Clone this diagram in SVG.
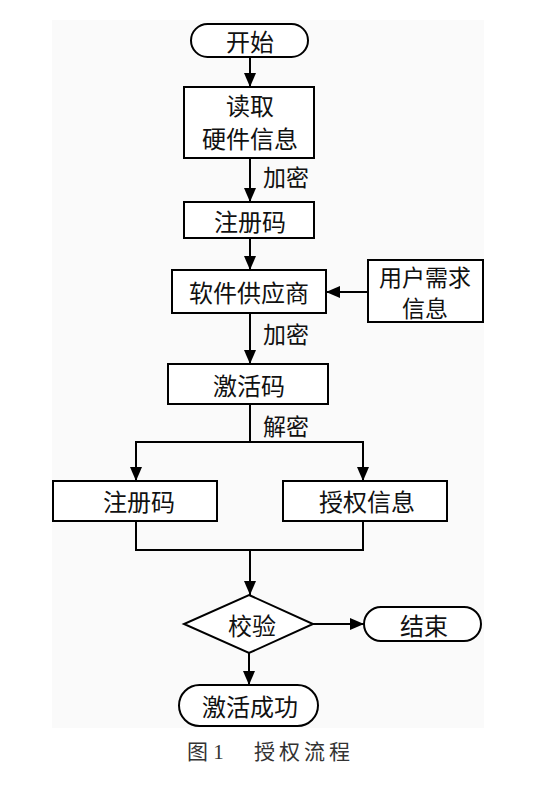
<svg xmlns="http://www.w3.org/2000/svg" width="536" height="802" viewBox="0 0 536 802">
<defs>
<marker id="ah" markerWidth="14" markerHeight="12" refX="14" refY="6" orient="auto" markerUnits="userSpaceOnUse">
<path d="M0,0 L14,6 L0,12 Z" fill="#000"/>
</marker>
<style>
.n{fill:#fff;stroke:#000;stroke-width:2}
.t{font-family:"Noto Sans CJK SC",sans-serif;font-size:24px;fill:#111;text-anchor:middle;dominant-baseline:central}
.l{font-family:"Noto Sans CJK SC",sans-serif;font-size:23px;fill:#111;dominant-baseline:central}
.c{fill:none;stroke:#000;stroke-width:2}
.cap{font-family:"Liberation Serif","Noto Sans CJK SC",serif;font-size:21px;fill:#333;dominant-baseline:central}
</style>
</defs>
<rect width="536" height="802" fill="#fff"/>
<rect x="52" y="20" width="432" height="708" fill="#fafafa"/>
<g id="start"><rect class="n" x="191" y="24" width="117" height="33" rx="16.5"/><text class="t" x="250" y="40">开始</text></g>
<g id="read"><rect class="n" x="184" y="87" width="130" height="71"/><text class="t" x="250" y="104">读取</text><text class="t" x="250" y="137">硬件信息</text></g>
<g id="reg1"><rect class="n" x="184" y="202" width="130" height="36"/><text class="t" x="250" y="220">注册码</text></g>
<g id="vendor"><rect class="n" x="172" y="270" width="154" height="43"/><text class="t" x="249" y="291">软件供应商</text></g>
<g id="user"><rect class="n" x="368" y="260" width="115" height="62"/><text class="t" x="425" y="276" style="font-size:23px">用户需求</text><text class="t" x="425" y="307" style="font-size:23px">信息</text></g>
<g id="act"><rect class="n" x="168" y="364" width="160" height="40"/><text class="t" x="249" y="384">激活码</text></g>
<g id="reg2"><rect class="n" x="53" y="481" width="164" height="40"/><text class="t" x="139" y="500">注册码</text></g>
<g id="auth"><rect class="n" x="283" y="481" width="164" height="40"/><text class="t" x="367" y="500">授权信息</text></g>
<g id="check"><polygon class="n" points="249,595 313,624 249,653 184,624"/><text class="t" x="252" y="624">校验</text></g>
<g id="end"><rect class="n" x="364" y="607" width="117" height="34" rx="17"/><text class="t" x="424" y="624">结束</text></g>
<g id="ok"><rect class="n" x="179" y="685" width="139" height="41" rx="20.5"/><text class="t" x="250" y="705">激活成功</text></g>
<g id="connectors">
<line class="c" x1="250" y1="57" x2="250" y2="87" marker-end="url(#ah)"/>
<line class="c" x1="250" y1="158" x2="250" y2="202" marker-end="url(#ah)"/>
<line class="c" x1="250" y1="238" x2="250" y2="270" marker-end="url(#ah)"/>
<line class="c" x1="368" y1="292" x2="326" y2="292" marker-end="url(#ah)"/>
<line class="c" x1="250" y1="313" x2="250" y2="364" marker-end="url(#ah)"/>
<polyline class="c" points="250,404 250,442 136,442 136,481" marker-end="url(#ah)"/>
<polyline class="c" points="250,442 363,442 363,481" marker-end="url(#ah)"/>
<polyline class="c" points="136,521 136,550 363,550 363,521"/>
<line class="c" x1="250" y1="550" x2="250" y2="595" marker-end="url(#ah)"/>
<line class="c" x1="313" y1="624" x2="364" y2="624" marker-end="url(#ah)"/>
<line class="c" x1="249" y1="653" x2="249" y2="685" marker-end="url(#ah)"/>
<text class="l" x="263" y="176">加密</text>
<text class="l" x="263" y="333">加密</text>
<text class="l" x="263" y="425">解密</text>
</g>
<text class="cap" x="187" y="752">图 1</text>
<text class="cap" x="254" y="752" letter-spacing="4">授权流程</text>
</svg>
